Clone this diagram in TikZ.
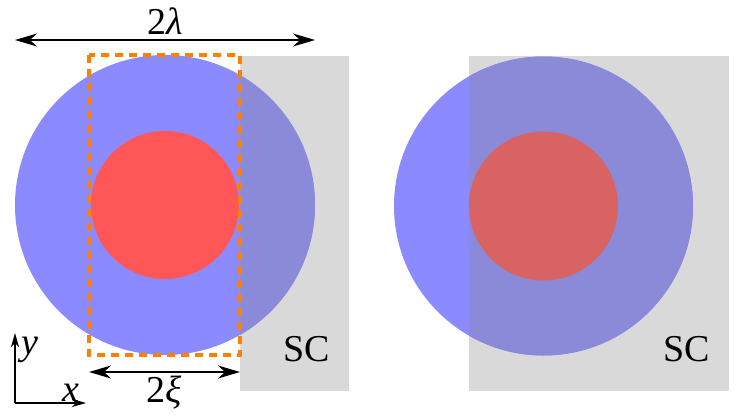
\documentclass[tikz,border=0pt]{standalone}
\usepackage{fontspec}
\setmainfont{Liberation Serif}
\usetikzlibrary{arrows.meta}
\definecolor{blu}{HTML}{8B8BFF}
\definecolor{rd}{HTML}{FF5757}
\definecolor{scgray}{HTML}{D9D9D9}
\definecolor{blugray}{HTML}{8A8AD9}
\definecolor{redgray}{HTML}{D96363}
\definecolor{orng}{HTML}{FF8000}
\tikzset{
  lbl/.style={inner sep=0pt, font=\fontsize{38}{40}\selectfont},
  dim/.style={line width=1.4pt, {Stealth[length=22pt,width=13pt,inset=7pt]}-{Stealth[length=22pt,width=13pt,inset=7pt]}},
  axis/.style={line width=1.2pt, -{Stealth[length=14pt,width=8pt,inset=4pt]}},
  boxdash/.style={draw=orng, line width=4pt, dash pattern=on 8pt off 6pt}
}
\begin{document}
\begin{tikzpicture}[x=1pt,y=-1pt]
\useasboundingbox (0,0) rectangle (747,420);
% ---------- left panel ----------
\fill[scgray] (240,56) rectangle (349,391);
\fill[blu] (165,205) circle[radius=150];
\fill[rd] (165,205) circle[radius=74];
\begin{scope}
  \clip (240,56) rectangle (349,391);
  \fill[blugray] (165,205) circle[radius=150];
  \fill[redgray] (165,205) circle[radius=74];
\end{scope}
\draw[boxdash] (89,55) rectangle (240,355);
\node[lbl] (scl) at (307,349) {SC};
% 2 lambda
\coordinate (la) at (15,40);
\coordinate (lb) at (315,40);
\draw[dim] (la) -- (lb);
\node[lbl] (lam) at (165,21) {2{\itshape λ}};
% 2 xi
\coordinate (xa) at (89,372);
\coordinate (xb) at (240,372);
\draw[dim] (xa) -- (xb);
\node[lbl] (xi) at (164,393) {2{\itshape ξ}};
% axes
\coordinate (o) at (15,403);
\coordinate (ytip) at (15,333);
\coordinate (xtip) at (86,403);
\draw[axis] (o) -- (ytip);
\draw[axis] (o) -- (xtip);
\node[lbl] (ylab) at (30,350) {\itshape y};
\node[lbl] (xlab) at (71,393) {\itshape x};
% ---------- right panel ----------
\fill[scgray] (469,56) rectangle (729,391);
\fill[blu] (543.5,206) circle[radius=149.5];
\fill[rd] (543.5,206) circle[radius=74.5];
\begin{scope}
  \clip (469,56) rectangle (729,391);
  \fill[blugray] (543.5,206) circle[radius=149.5];
  \fill[redgray] (543.5,206) circle[radius=74.5];
\end{scope}
\node[lbl] (scr) at (686.5,349) {SC};
\end{tikzpicture}
\end{document}
